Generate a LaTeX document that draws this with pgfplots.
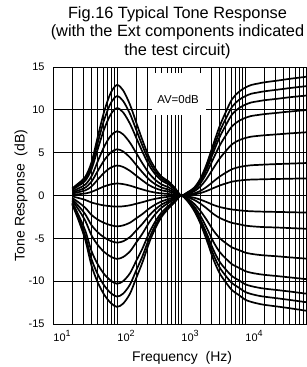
\documentclass[border=0pt]{standalone}
\usepackage{pgfplots}
\pgfplotsset{compat=1.18}
\usepackage{pgfplotstable}
\usepackage{fontspec}
\setmainfont{Liberation Sans}

\pgfplotstableread{
f p1 p2 p3 p4 p5 p6 p7 n1 n2 n3 n4 n5 n6 n7 z
20 0.84 0.75 0.66 0.49 0.35 0.23 0.09 -1.04 -0.94 -0.82 -0.59 -0.44 -0.29 -0.10 0
25 1.42 1.28 1.12 0.83 0.59 0.39 0.15 -2.86 -2.60 -2.27 -1.63 -1.21 -0.79 -0.29 0
32 2.19 1.97 1.73 1.28 0.92 0.60 0.24 -5.20 -4.72 -4.12 -2.96 -2.20 -1.44 -0.52 0
40 3.87 3.48 3.06 2.25 1.62 1.05 0.42 -8.19 -7.43 -6.49 -4.66 -3.47 -2.27 -0.82 0
50 6.84 6.15 5.41 3.98 2.86 1.86 0.74 -10.14 -9.20 -8.03 -5.77 -4.29 -2.81 -1.01 0
63 9.80 8.82 7.75 5.70 4.10 2.66 1.06 -11.57 -10.50 -9.17 -6.59 -4.90 -3.20 -1.16 0
80 12.00 10.79 9.49 6.98 5.02 3.26 1.30 -12.55 -11.39 -9.94 -7.14 -5.31 -3.47 -1.25 0
100 12.90 11.60 10.20 7.50 5.40 3.50 1.40 -13.00 -11.80 -10.30 -7.40 -5.50 -3.60 -1.30 0
125 12.26 11.02 9.69 7.13 5.13 3.33 1.33 -12.61 -11.45 -9.99 -7.18 -5.34 -3.49 -1.26 0
160 10.58 9.51 8.36 6.15 4.43 2.87 1.15 -11.44 -10.38 -9.06 -6.51 -4.84 -3.17 -1.14 0
200 8.51 7.66 6.73 4.95 3.56 2.31 0.92 -9.62 -8.73 -7.62 -5.48 -4.07 -2.66 -0.96 0
250 6.45 5.80 5.10 3.75 2.70 1.75 0.70 -7.80 -7.08 -6.18 -4.44 -3.30 -2.16 -0.78 0
320 4.39 3.94 3.47 2.55 1.84 1.19 0.48 -5.46 -4.96 -4.33 -3.11 -2.31 -1.51 -0.55 0
400 3.10 2.78 2.45 1.80 1.30 0.84 0.34 -3.77 -3.42 -2.99 -2.15 -1.60 -1.04 -0.38 0
500 2.19 1.97 1.73 1.28 0.92 0.60 0.24 -2.47 -2.24 -1.96 -1.41 -1.05 -0.68 -0.25 0
630 1.68 1.51 1.33 0.98 0.70 0.46 0.18 -1.56 -1.42 -1.24 -0.89 -0.66 -0.43 -0.16 0
800 0.90 0.81 0.71 0.53 0.38 0.25 0.10 -0.78 -0.71 -0.62 -0.44 -0.33 -0.22 -0.08 0
1000 0 0 0 0 0 0 0 0 0 0 0 0 0 0 0
1250 0.35 0.32 0.29 0.25 0.19 0.10 0.05 -0.61 -0.56 -0.52 -0.44 -0.33 -0.18 -0.09 0
1600 0.90 0.83 0.76 0.65 0.48 0.25 0.13 -1.76 -1.63 -1.50 -1.27 -0.96 -0.51 -0.26 0
2000 1.95 1.79 1.64 1.40 1.04 0.53 0.28 -3.24 -3.00 -2.76 -2.35 -1.78 -0.94 -0.48 0
2500 3.61 3.33 3.04 2.60 1.92 0.99 0.52 -5.13 -4.75 -4.37 -3.72 -2.81 -1.48 -0.76 0
3200 5.98 5.50 5.03 4.30 3.18 1.63 0.86 -7.43 -6.88 -6.33 -5.39 -4.07 -2.15 -1.10 0
4000 8.06 7.42 6.79 5.80 4.29 2.20 1.16 -9.05 -8.38 -7.71 -6.57 -4.96 -2.61 -1.34 0
5000 9.73 8.96 8.19 7.00 5.18 2.66 1.40 -10.13 -9.38 -8.63 -7.35 -5.55 -2.93 -1.50 0
6300 11.26 10.37 9.48 8.10 5.99 3.08 1.62 -11.07 -10.25 -9.43 -8.04 -6.07 -3.20 -1.64 0
8000 12.09 11.14 10.18 8.70 6.44 3.31 1.74 -11.61 -10.75 -9.89 -8.43 -6.36 -3.35 -1.72 0
10000 12.58 11.58 10.59 9.05 6.70 3.44 1.81 -12.15 -11.25 -10.35 -8.82 -6.66 -3.51 -1.80 0
12500 12.90 11.88 10.86 9.28 6.87 3.53 1.86 -12.42 -11.50 -10.58 -9.02 -6.81 -3.59 -1.84 0
16000 13.07 12.03 11.00 9.40 6.96 3.57 1.88 -12.62 -11.69 -10.75 -9.16 -6.92 -3.65 -1.87 0
20000 13.21 12.16 11.12 9.50 7.03 3.61 1.90 -12.76 -11.81 -10.87 -9.26 -6.99 -3.69 -1.89 0
32000 13.41 12.35 11.29 9.65 7.14 3.67 1.93 -12.96 -12.00 -11.04 -9.41 -7.10 -3.74 -1.92 0
50000 13.62 12.54 11.47 9.80 7.25 3.72 1.96 -13.16 -12.19 -11.21 -9.56 -7.22 -3.80 -1.95 0
100000 13.90 12.80 11.70 10.00 7.40 3.80 2.00 -13.50 -12.50 -11.50 -9.80 -7.40 -3.90 -2.00 0
}\tone

\tikzset{curve/.style={black, line width=1.7bp, smooth, no markers}}
\newcommand{\dec}[1]{10\raisebox{0.75ex}{\fontsize{9}{9}\selectfont #1}}

\begin{document}
\begin{tikzpicture}
\useasboundingbox (0,0) rectangle (307bp,367bp);
\begin{axis}[
  at={(53bp,43bp)}, anchor=south west,
  scale only axis, width=254bp, height=257bp,
  xmode=log, xmin=10, xmax=93000, ymin=-15, ymax=15,
  xtick={10,100,1000,10000},
  xticklabels={{\dec{1}},{\dec{2}},{\dec{3}},{\dec{4}}},
  minor xtick={20,30,40,50,60,70,80,90,200,300,400,500,600,700,800,900,2000,3000,4000,5000,6000,7000,8000,9000,20000,30000,40000,50000,60000,70000,80000,90000},
  ytick={-15,-10,-5,0,5,10,15},
  xmajorgrids, xminorgrids, ymajorgrids,
  major grid style={black, line width=0.9bp},
  minor grid style={black, line width=0.55bp},
  axis line style={black, line width=0.9bp},
  major tick length=0pt, minor tick length=0pt,
  /pgf/number format/assume math mode=true,
  ticklabel style={font=\fontsize{11}{13}\selectfont},
  yticklabel style={xshift=-5bp},
  xticklabel style={xshift=9bp, yshift=-3bp},
  xlabel={Frequency\ \ (Hz)},
  ylabel={Tone Response\ \ (dB)},
  label style={font=\fontsize{14}{16}\selectfont},
  xlabel style={at={(axis description cs:0.508,0)}, anchor=center, yshift=-34bp},
  ylabel style={at={(axis description cs:-0.126,0.5)}, anchor=center},
  title={Fig.16 Typical Tone Response\\(with the Ext components indicated\\the test circuit)},
  title style={font=\fontsize{16.4}{18.6}\selectfont, align=center, at={(axis description cs:0.49,1)}, anchor=south, yshift=-1bp},
]
\fill[white] (axis cs:352,14.3) rectangle (axis cs:2455,9.4);
\node[font=\fontsize{11.5}{13}\selectfont] at (axis cs:898,11.2) {AV=0dB};
\addplot[curve] table[x=f, y=z] {\tone};
\addplot[curve] table[x=f, y=p1] {\tone};
\addplot[curve] table[x=f, y=p2] {\tone};
\addplot[curve] table[x=f, y=p3] {\tone};
\addplot[curve] table[x=f, y=p4] {\tone};
\addplot[curve] table[x=f, y=p5] {\tone};
\addplot[curve] table[x=f, y=p6] {\tone};
\addplot[curve] table[x=f, y=p7] {\tone};
\addplot[curve] table[x=f, y=n1] {\tone};
\addplot[curve] table[x=f, y=n2] {\tone};
\addplot[curve] table[x=f, y=n3] {\tone};
\addplot[curve] table[x=f, y=n4] {\tone};
\addplot[curve] table[x=f, y=n5] {\tone};
\addplot[curve] table[x=f, y=n6] {\tone};
\addplot[curve] table[x=f, y=n7] {\tone};
\end{axis}
\end{tikzpicture}
\end{document}
